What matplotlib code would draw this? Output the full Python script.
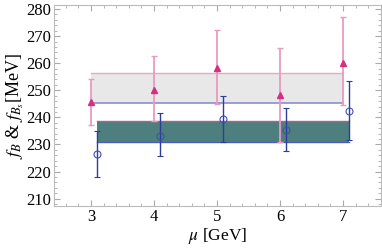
import numpy as np
import matplotlib
matplotlib.use("Agg")
import matplotlib.pyplot as plt
from matplotlib.ticker import MultipleLocator

plt.rcParams['font.family'] = ['Liberation Serif', 'DejaVu Serif']
plt.rcParams['mathtext.fontset'] = 'stix'

# f_Bs (pink triangles)
mu_bs = [3, 4, 5, 6, 7]
fbs = [245.6, 250.2, 258.2, 248.1, 260.2]
fbs_lo = [237.0, 238.6, 245.1, 231.0, 244.4]
fbs_hi = [254.1, 262.5, 272.2, 265.7, 276.9]

# f_B (blue circles)
mu_b = [3.1, 4.1, 5.1, 6.1, 7.1]
fb = [226.4, 233.3, 239.5, 235.5, 242.3]
fb_lo = [218.0, 225.6, 231.0, 227.4, 231.8]
fb_hi = [235.0, 241.5, 247.9, 243.5, 253.4]

# averaged bands
band_bs = [245.4, 256.4]
band_b = [231.0, 238.6]

pink = '#d42f80'
pinkbar = '#e99ac0'
blue = '#2c3d9a'
bluebar = '#3f51b0'

fig = plt.figure(figsize=(3.82, 2.49), dpi=100)
ax = fig.add_axes([0.141, 0.173, 0.856, 0.807])

ax.fill_between([mu_bs[0], mu_bs[-1]], band_bs[0], band_bs[1], color='#e8e8e8', lw=0, zorder=1)
ax.plot([mu_bs[0], mu_bs[-1]], [band_bs[1]] * 2, color='#e3aac6', lw=1, zorder=2)
ax.plot([mu_bs[0], mu_bs[-1]], [band_bs[0]] * 2, color='#8a8fd0', lw=1.2, zorder=2)

ax.fill_between([mu_b[0], mu_b[-1]], band_b[0], band_b[1], color='#4e7f7f', lw=0, zorder=1)
ax.plot([mu_b[0], mu_b[-1]], [band_b[1]] * 2, color='#b0608a', lw=1, zorder=2)
ax.plot([mu_b[0], mu_b[-1]], [band_b[0]] * 2, color='#4a5fb5', lw=1, zorder=2)

fbs_a = np.array(fbs)
ax.errorbar(mu_bs, fbs, yerr=[fbs_a - np.array(fbs_lo), np.array(fbs_hi) - fbs_a],
            fmt='^', color=pink, ecolor=pinkbar, elinewidth=1.3, capsize=2.5,
            markersize=4.5, zorder=3)

fb_a = np.array(fb)
ax.errorbar(mu_b, fb, yerr=[fb_a - np.array(fb_lo), np.array(fb_hi) - fb_a],
            fmt='o', mfc='none', mec=bluebar, color=bluebar, ecolor=blue,
            elinewidth=1.0, capsize=2.5, markersize=5, mew=0.8, zorder=3)

ax.set_xlim(2.41, 7.6)
ax.set_ylim(207.3, 281.5)
ax.xaxis.set_major_locator(MultipleLocator(1))
ax.xaxis.set_minor_locator(MultipleLocator(0.2))
ax.yaxis.set_major_locator(MultipleLocator(10))
ax.yaxis.set_minor_locator(MultipleLocator(2))
ax.tick_params(which='both', direction='in', top=True, right=True, color='#aaaaaa',
               labelsize=12, pad=2)
ax.tick_params(which='major', length=4)
ax.tick_params(which='minor', length=2)
for s in ax.spines.values():
    s.set_color('#bbbbbb')

ax.set_xlabel(r'$\mu$ [GeV]', fontsize=12.5, labelpad=1)
ax.set_ylabel(r'$f_B$ & $f_{B_s}$[MeV]', fontsize=13, labelpad=0)

fig.savefig('out.png', dpi=100)
